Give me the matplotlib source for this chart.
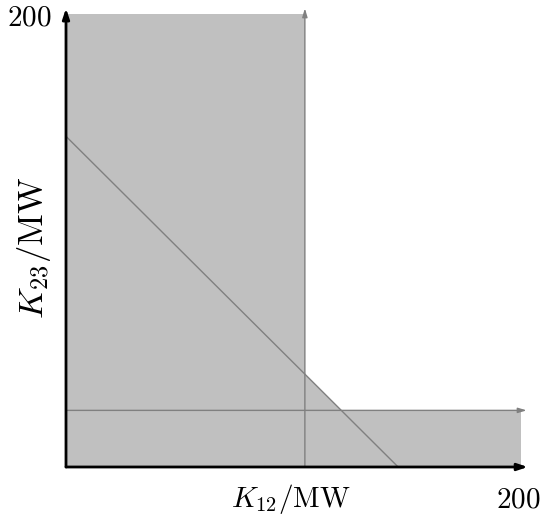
import matplotlib
matplotlib.use("Agg")
import matplotlib.pyplot as plt

plt.rcParams['mathtext.fontset'] = 'cm'

# feasible region limits (MW)
axis_max = 200
k12_limit = 105
k23_limit = 25
line_sum = 146   # K12 + K23 = const

fig = plt.figure(figsize=(5.43, 5.15), dpi=100)
ax = fig.add_axes([66/543, 48/515, 455/543, 453/515])
ax.set_xlim(0, axis_max)
ax.set_ylim(0, axis_max)
ax.axis('off')

gray = '#c0c0c0'
lgray = '#808080'
ax.fill([0, k12_limit, k12_limit, 0], [0, 0, axis_max, axis_max], color=gray, lw=0)
ax.fill([0, axis_max, axis_max, 0], [0, 0, k23_limit, k23_limit], color=gray, lw=0)
ax.fill([0, line_sum, 0], [0, 0, line_sum], color=gray, lw=0)

# constraint lines
ax.annotate('', xy=(k12_limit, axis_max + 2.5), xytext=(k12_limit, 0),
            arrowprops=dict(arrowstyle='-|>,head_length=0.5,head_width=0.15', color=lgray, lw=1, shrinkA=0, shrinkB=0),
            annotation_clip=False)
ax.annotate('', xy=(axis_max + 2.5, k23_limit), xytext=(0, k23_limit),
            arrowprops=dict(arrowstyle='-|>,head_length=0.5,head_width=0.15', color=lgray, lw=1, shrinkA=0, shrinkB=0),
            annotation_clip=False)
ax.plot([0, line_sum], [line_sum, 0], color=lgray, lw=1, clip_on=False)

# axes
ax.annotate('', xy=(axis_max + 3, 0), xytext=(0, 0),
            arrowprops=dict(arrowstyle='-|>,head_length=0.6,head_width=0.2', color='black', lw=2, shrinkA=0, shrinkB=0),
            annotation_clip=False)
ax.annotate('', xy=(0, axis_max + 2.5), xytext=(0, 0),
            arrowprops=dict(arrowstyle='-|>,head_length=0.6,head_width=0.2', color='black', lw=2, shrinkA=0, shrinkB=0),
            annotation_clip=False)

ax.text(-6.2, 195.1, r'$200$', fontsize=21, ha='right', va='baseline')
ax.text(199, -17.7, r'$200$', fontsize=21, ha='center', va='baseline')
ax.text(99, -17.7, r'$K_{12}/\mathrm{MW}$', fontsize=21, ha='center', va='baseline')
ax.text(-14, 96.7, r'$K_{23}/\mathrm{MW}$', fontsize=25, ha='center', va='center', rotation=90)

fig.savefig('out.png', dpi=100)
